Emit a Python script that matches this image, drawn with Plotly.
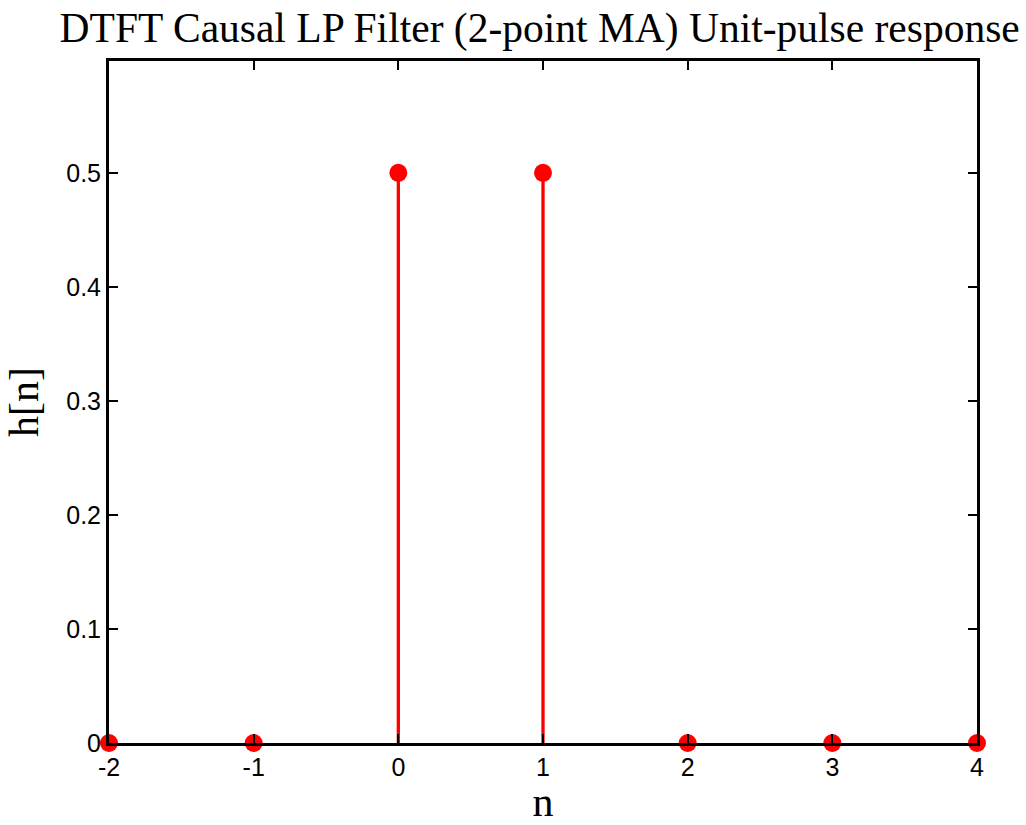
import plotly.graph_objects as go

n_vals = [-2, -1, 0, 1, 2, 3, 4]
h_vals = [0, 0, 0.5, 0.5, 0, 0, 0]
x_ticks = [-2, -1, 0, 1, 2, 3, 4]
y_ticks = [0, 0.1, 0.2, 0.3, 0.4, 0.5]
y_tick_text = ["0", "0.1", "0.2", "0.3", "0.4", "0.5"]

stem_x, stem_y = [], []
for n, h in zip(n_vals, h_vals):
    stem_x += [n, n, None]
    stem_y += [0, h, None]

fig = go.Figure()
fig.add_trace(go.Scatter(x=stem_x, y=stem_y, mode="lines",
                         line=dict(color="#FF0000", width=3.3),
                         showlegend=False, hoverinfo="skip", cliponaxis=False))
fig.add_trace(go.Scatter(x=n_vals, y=h_vals, mode="markers",
                         marker=dict(color="#FF0000", size=18),
                         showlegend=False, cliponaxis=False))

fig.update_layout(
    width=1026, height=825,
    margin=dict(l=109, r=49, t=61, b=82),
    paper_bgcolor="white", plot_bgcolor="white",
    title=dict(text="DTFT Causal LP Filter (2-point MA) Unit-pulse response",
               font=dict(family="Liberation Serif", size=41.5, color="black"),
               x=0.526, xanchor="center", xref="container",
               y=1 - 27 / 825, yanchor="middle", yref="container"),
    xaxis=dict(range=[-2, 4], tickvals=x_ticks, ticktext=[str(t) for t in x_ticks],
               ticks="inside", ticklen=9, tickwidth=2, tickcolor="black",
               showline=True, linewidth=3, linecolor="black", mirror="ticks",
               showgrid=False, zeroline=False, layer="above traces",
               tickfont=dict(family="Liberation Sans", size=25, color="black"),
               title=dict(text="n", font=dict(family="Liberation Serif", size=42, color="black"),
                          standoff=4)),
    yaxis=dict(range=[0, 0.598], tickvals=y_ticks, ticktext=y_tick_text,
               ticks="inside", ticklen=9, tickwidth=2, tickcolor="black",
               showline=True, linewidth=3, linecolor="black", mirror="ticks",
               showgrid=False, zeroline=False, layer="above traces",
               tickfont=dict(family="Liberation Sans", size=25, color="black"),
               title=dict(text="h[n]", font=dict(family="Liberation Serif", size=42, color="black"),
                          standoff=15)),
)

fig.write_html("out.html")
